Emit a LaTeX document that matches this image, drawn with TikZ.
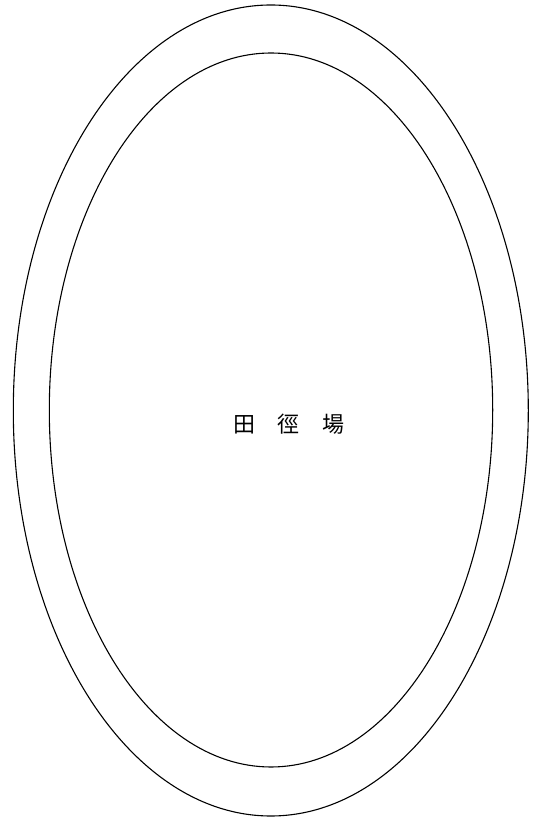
\documentclass[tikz,border=0pt]{standalone}
\usepackage{fontspec}
\newfontfamily\cjk{Noto Sans CJK TC}
\usetikzlibrary{positioning,shapes.geometric}

\begin{document}
\begin{tikzpicture}[
    x=1pt, y=1pt,
    track_line/.style={draw, ellipse, line width=1.1pt, inner sep=0pt},
    label_node/.style={font=\cjk\fontsize{22}{26}\selectfont, inner sep=0pt}
]
\useasboundingbox (0,0) rectangle (533,822);

% --- TRACK ---
\node[track_line, minimum width=515pt, minimum height=811pt] (outer_lane) at (270.8,411.5) {};
\node[track_line, minimum width=443.4pt, minimum height=714pt] (inner_lane) at (271,412) {};

% --- LABEL ---
\node[label_node] (field_name) at (289,398) {田\hspace{23pt}徑\hspace{23pt}場};

\end{tikzpicture}
\end{document}
